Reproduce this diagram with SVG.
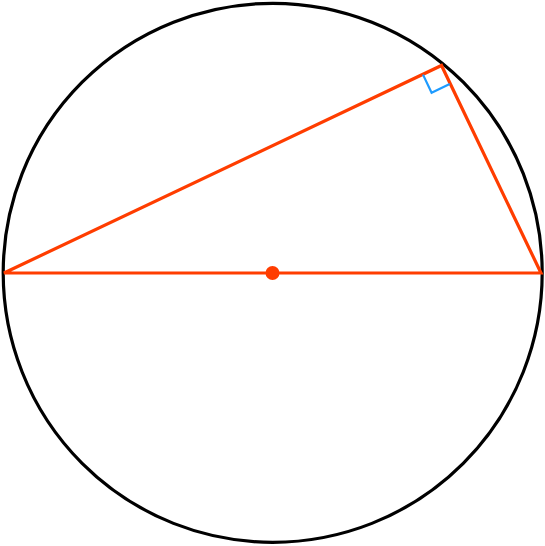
<svg xmlns="http://www.w3.org/2000/svg" width="545" height="546" viewBox="0 0 545 546">
<style>
.circ{fill:none;stroke:#000;stroke-width:3.2}
.red{fill:none;stroke:#ff3d00;stroke-width:3.2;stroke-linejoin:miter}
.ra{fill:none;stroke:#1e9bff;stroke-width:2.2}
</style>
<rect width="545" height="546" fill="#fff"/>
<g id="circle"><circle class="circ" cx="272.7" cy="272.8" r="269.5"/></g>
<g id="connectors">
<polygon class="red" points="4,273 441.5,65.5 541,273"/>
<polyline class="ra" points="423,74.6 431.6,92.8 449.7,84"/>
</g>
<g id="center"><circle cx="272.5" cy="273" r="7" fill="#ff3d00"/></g>
</svg>
